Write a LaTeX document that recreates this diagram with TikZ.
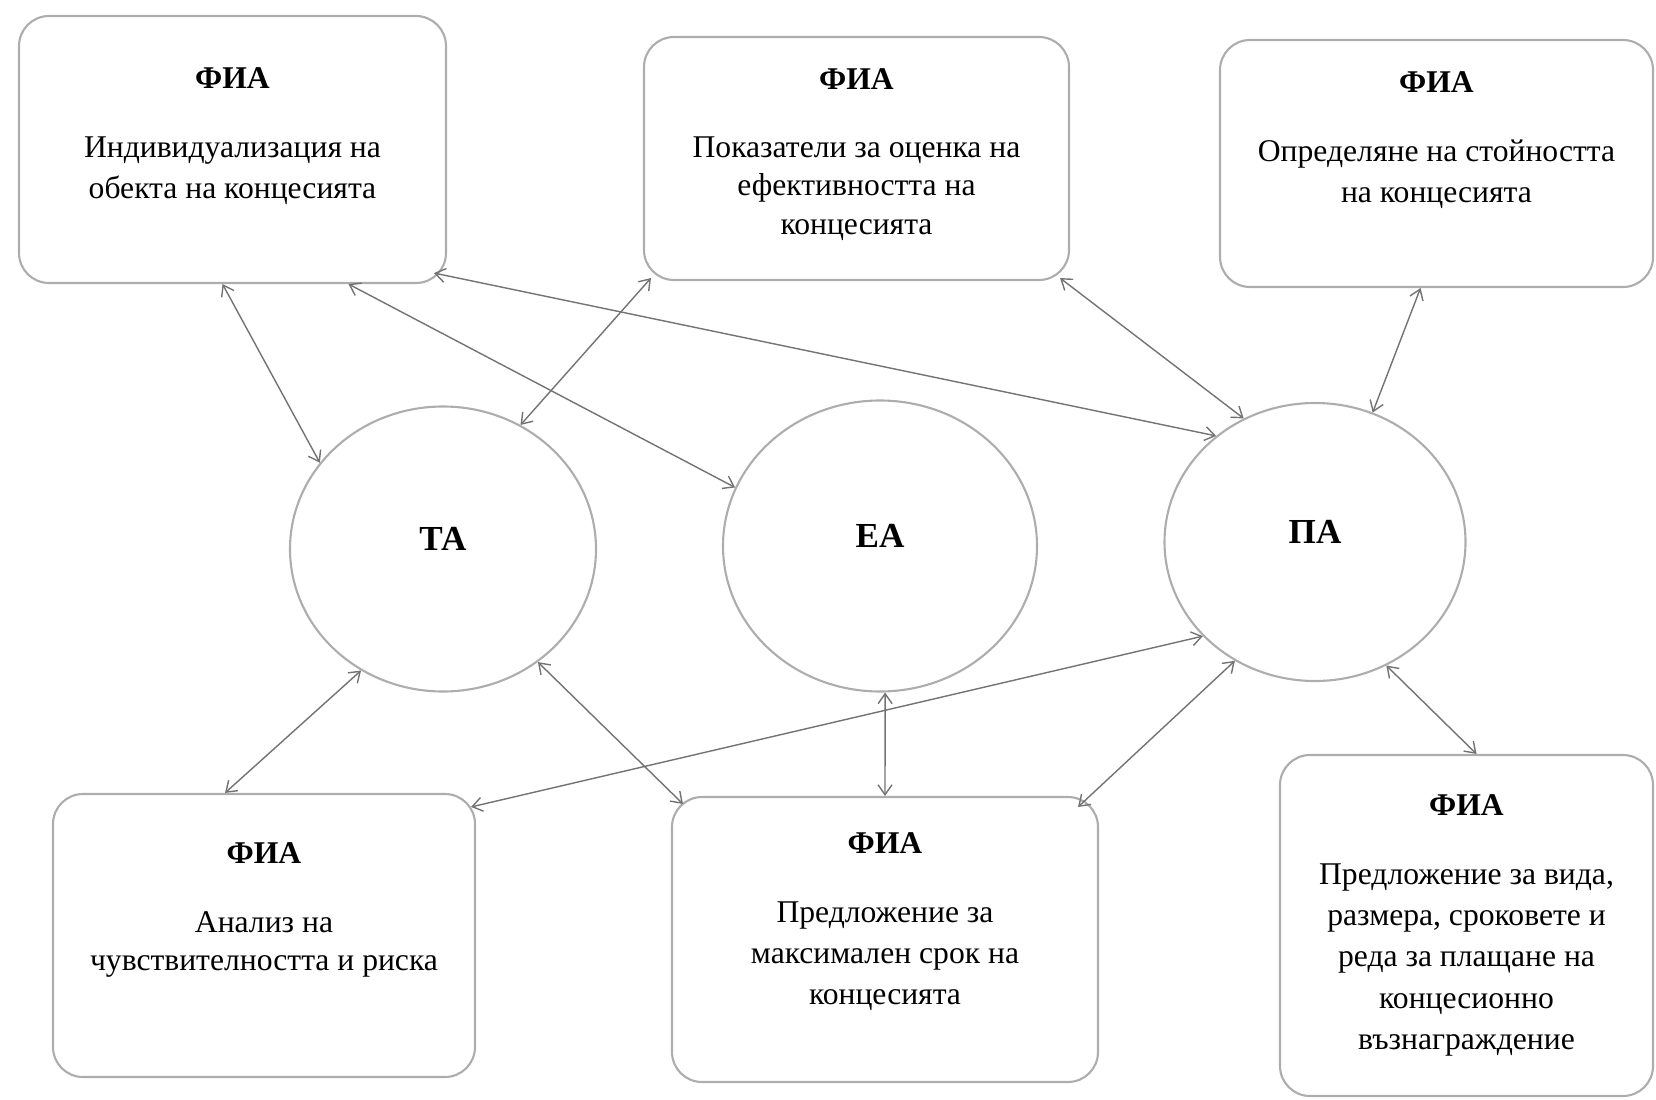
\documentclass[tikz,border=0pt]{standalone}
\usepackage{fontspec}
\setmainfont{Liberation Serif}
\usepackage{tikz}
\usetikzlibrary{positioning,shapes.geometric,arrows.meta}

\begin{document}
\begin{tikzpicture}[x=0.1mm,y=-0.1mm,
		fiabox/.style={draw=black!32, line width=0.6pt, rounded corners=3mm, inner sep=0pt},
		fiatext/.style={align=center, inner sep=0pt, font=\fontsize{9}{11.7}\selectfont},
		agent/.style={ellipse, draw=black!32, line width=0.6pt, inner sep=0pt, text depth=2mm, font=\fontsize{10}{12}\selectfont\bfseries},
		link/.style={{Straight Barb[length=1mm,width=1.4mm]}-{Straight Barb[length=1mm,width=1.4mm]}, draw=black!55, line width=0.4pt}]
			\useasboundingbox (0,0) rectangle (1656,1099);

			% analysis boxes
			\node[fiabox, minimum width=42.7mm, minimum height=26.7mm] (b1) at (232.5,149.5) {};
			\node[fiabox, minimum width=42.5mm, minimum height=24.3mm] (b2) at (856.5,158.5) {};
			\node[fiabox, minimum width=43.3mm, minimum height=24.7mm] (b3) at (1436.5,163.5) {};
			\node[fiabox, minimum width=42.2mm, minimum height=28.3mm] (b4) at (264,935.5) {};
			\node[fiabox, minimum width=42.6mm, minimum height=28.5mm] (b5) at (885,939.5) {};
			\node[fiabox, minimum width=37.3mm, minimum height=34.1mm] (b6) at (1466.5,925.5) {};

			% box texts
			\node[fiatext, below=5.2mm of b1.north] (t1) {\textbf{ФИА}\\[2.8mm] Индивидуализация на\\обекта на концесията};
			\node[fiatext, below=3.2mm of b2.north, font=\fontsize{9}{11}\selectfont] (t2) {\textbf{ФИА}\\[2.9mm] Показатели за оценка на\\ефективността на\\концесията};
			\node[fiatext, below=3.2mm of b3.north] (t3) {\textbf{ФИА}\\[2.8mm] Определяне на стойността\\на концесията};
			\node[fiatext, below=4.9mm of b4.north, font=\fontsize{9}{11}\selectfont] (t4) {\textbf{ФИА}\\[3mm] Анализ на\\чувствителността и риска};
			\node[fiatext, below=3.6mm of b5.north] (t5) {\textbf{ФИА}\\[2.8mm] Предложение за\\максимален срок на\\концесията};
			\node[fiatext, below=4.0mm of b6.north] (t6) {\textbf{ФИА}\\[2.8mm] Предложение за вида,\\размера, сроковете и\\реда за плащане на\\концесионно\\възнаграждение};

			% the three analyses
			\node[agent, minimum width=30.6mm, minimum height=28.5mm] (ta) at (443,549) {ТА};
			\node[agent, minimum width=31.4mm, minimum height=29.1mm] (ea) at (880,546) {ЕА};
			\node[agent, minimum width=30.1mm, minimum height=27.8mm] (pa) at (1315,542) {ПА};

			% links to the upper boxes
			\draw[link] ([xshift=-1mm]b1.south) -- (ta.145);
			\draw[link] ([xshift=11.6mm]b1.south) -- (ea.158);
			\draw[link] ([shift={(-1.3mm,1.1mm)}]b1.south east) -- (pa.133);
			\draw[link] ([shift={(0.8mm,0.3mm)}]b2.south west) -- (ta.58);
			\draw[link] ([shift={(-1mm,0.3mm)}]b2.south east) -- (pa.120);
			\draw[link] ([xshift=-1.6mm]b3.south) -- (pa.66);

			% links to the lower boxes
			\draw[link] (ta.236) -- ([xshift=-3.9mm]b4.north);
			\draw[link] (ta.310) -- ([shift={(1.2mm,-0.8mm)}]b5.north west);
			\draw[link] (pa.220) -- ([shift={(-0.5mm,-1.4mm)}]b4.north east);
			\draw[link] (ea.272) -- (b5.north);
			\draw[link] (pa.236) -- ([shift={(-2.1mm,-1.1mm)}]b5.north east);
			\draw[link] (pa.300) -- ([xshift=1mm]b6.north);

		\end{tikzpicture}
\end{document}
